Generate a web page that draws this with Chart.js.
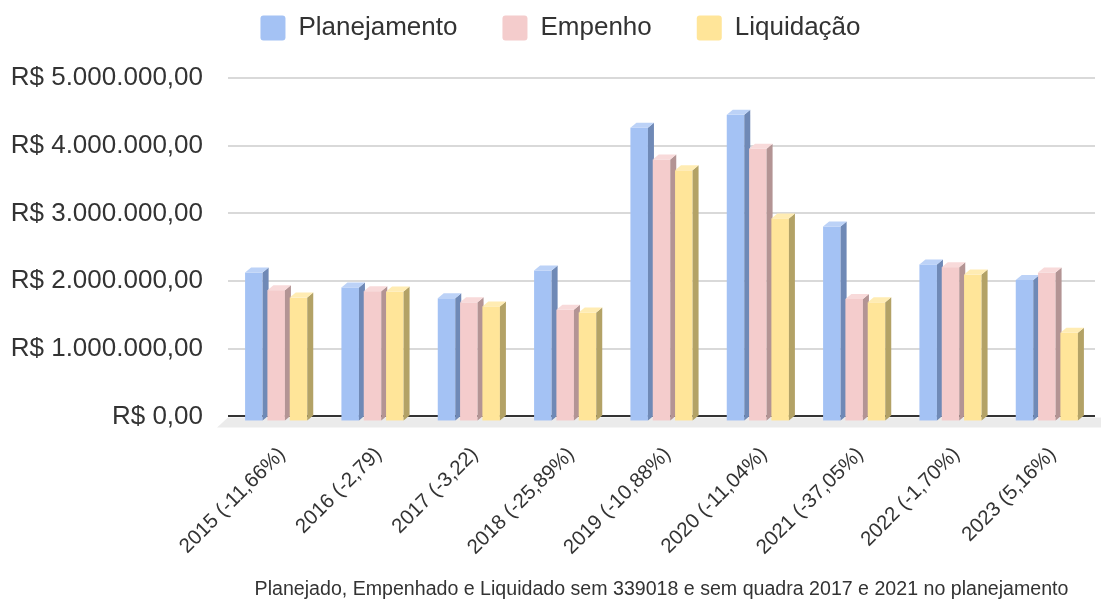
<!DOCTYPE html>
<html>
<head>
<meta charset="utf-8">
<script src="https://cdn.jsdelivr.net/npm/chart.js@4.4.0/dist/chart.umd.min.js"></script>
<style>
  html, body { margin: 0; padding: 0; background: #fff; }
</style>
</head>
<body>
<canvas id="chart" width="1101" height="601"></canvas>
<script>
const categories = [
  "2015 (-11,66%)", "2016 (-2,79)", "2017 (-3,22)", "2018 (-25,89%)", "2019 (-10,88%)",
  "2020 (-11,04%)", "2021 (-37,05%)", "2022 (-1,70%)", "2023 (5,16%)"
]
const planejamento = [2200000, 1980000, 1820000, 2230000, 4340000, 4530000, 2880000, 2320000, 2090000]
const empenho      = [1940000, 1925000, 1760000, 1650000, 3870000, 4030000, 1810000, 2280000, 2200000]
const liquidacao   = [1830000, 1920000, 1700000, 1610000, 3710000, 3000000, 1760000, 2170000, 1310000]
const yTickLabels = [
  "R$ 0,00", "R$ 1.000.000,00", "R$ 2.000.000,00",
  "R$ 3.000.000,00", "R$ 4.000.000,00", "R$ 5.000.000,00"
]

// front, side, top colours for the fake 3D look
const FACES = [
  { front: "#A4C2F4", side: "#6F89B6", top: "#BCD2F7" },
  { front: "#F4CCCC", side: "#B39494", top: "#F8DADA" },
  { front: "#FFE599", side: "#B3A266", top: "#FFECB3" }
]
const DX = 6, DY = 5

Chart.defaults.font.family = "'Liberation Sans', Arial, sans-serif"
Chart.defaults.color = "#333"

// legend sits a bit right of the canvas centre and close to the top
const legendSpot = {
  id: "legendSpot",
  beforeInit(chart) {
    const fit = chart.legend.fit
    chart.legend.fit = function () { fit.call(this); this.height = 78 }
  },
  afterLayout(chart) {
    const lg = chart.legend
    lg.top = 15 - lg.options.labels.padding
    lg.left += 13
    lg.right += 13
  }
}

const bars3d = {
  id: "bars3d",
  beforeDatasetsDraw(chart) {
    const { ctx, chartArea } = chart
    const base = chart.scales.y.getPixelForValue(0)

    // floor under the baseline
    ctx.save()
    ctx.fillStyle = "#EBEBEB"
    ctx.beginPath()
    ctx.moveTo(chartArea.left, base + 1)
    ctx.lineTo(chartArea.right + DX, base + 1)
    ctx.lineTo(chartArea.right + DX, base + 11)
    ctx.lineTo(chartArea.left - 11, base + 11)
    ctx.closePath()
    ctx.fill()

    const items = []
    chart.data.datasets.forEach((ds, i) => {
      chart.getDatasetMeta(i).data.forEach(el => {
        items.push({ p: el.getProps(["x", "y", "base", "width"], true), c: FACES[i] })
      })
    })
    items.sort((a, b) => a.p.x - b.p.x)

    items.forEach(({ p, c }) => {
      const l = p.x - p.width / 2, r = p.x + p.width / 2
      const t = p.y + DY, b = p.base + DY
      ctx.fillStyle = c.front
      ctx.fillRect(l, t, r - l, b - t)
      ctx.fillStyle = c.side
      ctx.beginPath()
      ctx.moveTo(r, t); ctx.lineTo(r + DX, t - DY); ctx.lineTo(r + DX, b - DY); ctx.lineTo(r, b)
      ctx.closePath(); ctx.fill()
      ctx.fillStyle = c.top
      ctx.beginPath()
      ctx.moveTo(l, t); ctx.lineTo(l + DX, t - DY); ctx.lineTo(r + DX, t - DY); ctx.lineTo(r, t)
      ctx.closePath(); ctx.fill()
    })
    ctx.restore()
    return false
  }
}

new Chart(document.getElementById("chart"), {
  type: "bar",
  data: {
    labels: categories,
    datasets: [
      { label: "Planejamento", data: planejamento, backgroundColor: FACES[0].front },
      { label: "Empenho",      data: empenho,      backgroundColor: FACES[1].front },
      { label: "Liquidação",   data: liquidacao,   backgroundColor: FACES[2].front }
    ]
  },
  options: {
    responsive: false,
    animation: false,
    layout: { padding: { left: 0, right: 6, top: 0, bottom: 0 } },
    datasets: { bar: { categoryPercentage: 0.695, barPercentage: 0.785, borderWidth: 0 } },
    scales: {
      x: {
        grid: { display: false },
        border: { display: false },
        ticks: {
          minRotation: 45, maxRotation: 45, padding: 18, labelOffset: 6,
          font: { size: 20.5 }, color: "#333"
        },
        afterFit: s => { s.height = 155 }
      },
      y: {
        min: 0,
        max: 5000000,
        border: { display: false },
        grid: {
          drawTicks: false,
          lineWidth: 2,
          color: c => c.tick && c.tick.value === 0 ? "#333" : "#D9D9D9"
        },
        ticks: {
          stepSize: 1000000,
          padding: 25,
          font: { size: 26 },
          color: "#333",
          callback: (v, i) => yTickLabels[i]
        },
        afterFit: s => { s.width = 228 }
      }
    },
    plugins: {
      legend: {
        position: "top",
        labels: {
          boxWidth: 25,
          boxHeight: 25,
          padding: 45,
          useBorderRadius: true,
          borderRadius: 3,
          font: { size: 26 },
          color: "#333"
        }
      },
      title: {
        display: true,
        position: "bottom",
        fullSize: false,
        text: "Planejado, Empenhado e Liquidado sem 339018 e sem quadra 2017 e 2021 no planejamento",
        font: { size: 19.6, weight: "normal" },
        color: "#333",
        padding: { top: 6, bottom: 0 }
      },
      tooltip: { enabled: false }
    }
  },
  plugins: [legendSpot, bars3d]
})
</script>
</body>
</html>
